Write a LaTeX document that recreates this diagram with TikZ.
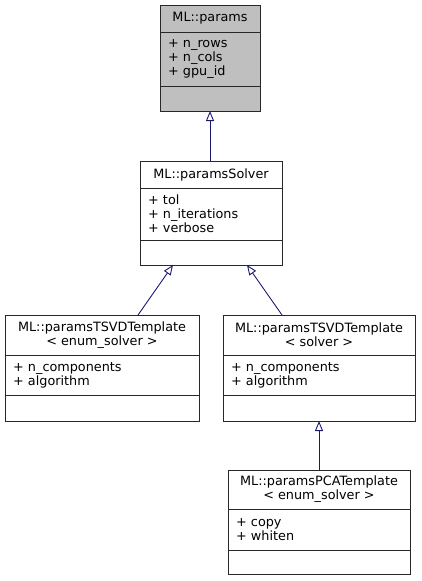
\documentclass[tikz,border=0pt]{standalone}
\usepackage{fontspec}
\setmainfont{DejaVu Sans}
\usepackage{tikz}
\usetikzlibrary{shapes,arrows.meta,positioning}
\definecolor{frame}{RGB}{40,40,40}
\definecolor{edge}{RGB}{25,25,112}
\definecolor{current}{RGB}{191,191,191}

\tikzset{
  part/.style={rectangle, draw=frame, line width=0.9pt, fill=white, inner xsep=8pt, inner ysep=0pt,
    outer sep=0pt, font=\fontsize{12.8}{14}\selectfont},
  head/.style={part, align=center},
  attr/.style={part, align=left},
  inherit/.style={-{Triangle[open,length=10pt,width=8pt]}, draw=edge, line width=0.9pt}
}

\begin{document}
\begin{tikzpicture}[x=1pt, y=-1pt]
\useasboundingbox (0,0) rectangle (421,581);

\node (params) [head, fill=current, anchor=north, minimum width=100pt, minimum height=27pt] at (210,5) {ML::params};
\node (paramsattr) [attr, fill=current, text width=84pt, minimum height=54pt, below=0pt of params] {+ n\_rows\\+ n\_cols\\+ gpu\_id};
\node (paramsops) [part, fill=current, minimum width=100pt, minimum height=25pt, below=0pt of paramsattr] {};

\node (solver) [head, anchor=north, minimum width=142pt, minimum height=27pt] at (211,161) {ML::paramsSolver};
\node (solverattr) [attr, text width=126pt, minimum height=52pt, below=0pt of solver] {+ tol\\+ n\_iterations\\+ verbose};
\node (solverops) [part, minimum width=142pt, minimum height=25pt, below=0pt of solverattr] {};

\node (tsvdenum) [head, anchor=north, minimum width=194pt, minimum height=40pt] at (102,315) {ML::paramsTSVDTemplate\\< enum\_solver >};
\node (tsvdenumattr) [attr, text width=178pt, minimum height=40pt, below=0pt of tsvdenum] {+ n\_components\\+ algorithm};
\node (tsvdenumops) [part, minimum width=194pt, minimum height=26pt, below=0pt of tsvdenumattr] {};

\node (tsvd) [head, anchor=north, minimum width=192pt, minimum height=40pt] at (319,315) {ML::paramsTSVDTemplate\\< solver >};
\node (tsvdattr) [attr, text width=176pt, minimum height=40pt, below=0pt of tsvd] {+ n\_components\\+ algorithm};
\node (tsvdops) [part, minimum width=192pt, minimum height=26pt, below=0pt of tsvdattr] {};

\node (pca) [head, anchor=north, minimum width=182pt, minimum height=39pt] at (319,470) {ML::paramsPCATemplate\\< enum\_solver >};
\node (pcaattr) [attr, text width=166pt, minimum height=41pt, below=0pt of pca] {+ copy\\+ whiten};
\node (pcaops) [part, minimum width=182pt, minimum height=24pt, below=0pt of pcaattr] {};

\draw [inherit] ([xshift=-1pt]solver.north) -- ([xshift=0pt]paramsops.south);
\draw [inherit] ([xshift=36pt]tsvdenum.north) -- ([xshift=-38pt]solverops.south);
\draw [inherit] ([xshift=-37pt]tsvd.north) -- ([xshift=36pt]solverops.south);
\draw [inherit] (pca.north) -- (tsvdops.south);
\end{tikzpicture}
\end{document}
